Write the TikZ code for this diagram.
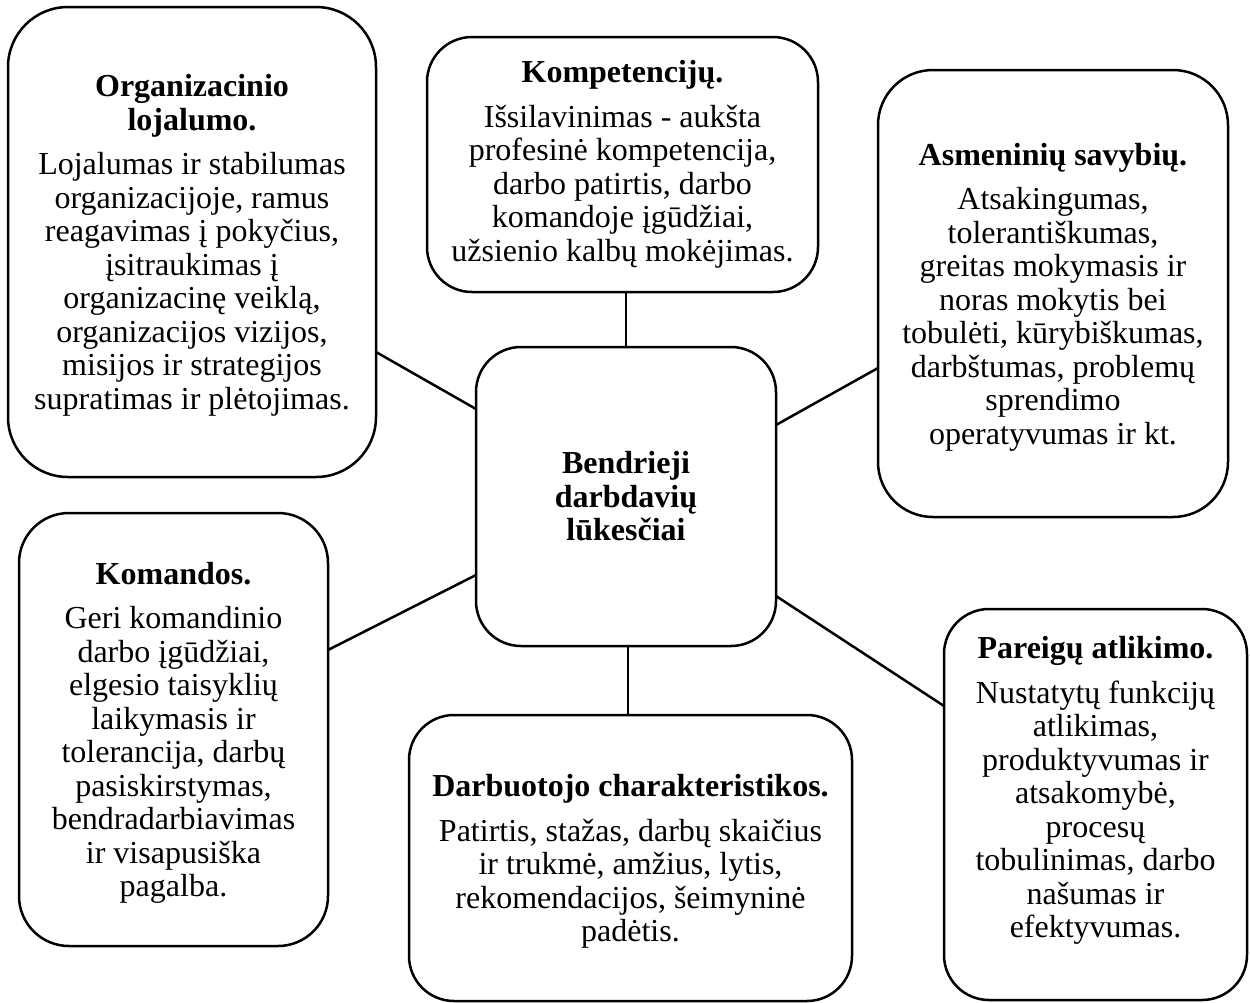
\documentclass[tikz,border=0pt]{standalone}
\usepackage{fontspec}
\setmainfont{Liberation Serif}
\begin{document}
\begin{tikzpicture}[x=0.5pt,y=-0.5pt,
  box/.style={draw=black, line width=1.25pt, rounded corners=#1, inner sep=0pt,
    outer sep=0pt, align=center, fill=white,
    font=\fontsize{16}{16.75}\selectfont},
  box/.default=22.5pt,
  link/.style={draw=black, line width=1.25pt}]
\fill[white] (0,0) rectangle (1250,1003);
\useasboundingbox (0,0) rectangle (1250,1003);

% central topic
\node[box, minimum width=150pt, minimum height=149.5pt] (ctr) at (626,496.5)
  {\textbf{Bendrieji}\\\textbf{darbdavių}\\\textbf{lūkesčiai}};

% surrounding groups of expectations
\node[box=30pt, minimum width=184pt, minimum height=235pt, text depth=-1.5pt] (org) at (192,242)
  {\textbf{Organizacinio}\\\textbf{lojalumo.}\\[5.5pt]
   Lojalumas ir stabilumas\\organizacijoje, ramus\\reagavimas į pokyčius,\\
   įsitraukimas į\\organizacinę veiklą,\\organizacijos vizijos,\\
   misijos ir strategijos\\supratimas ir plėtojimas.};

\node[box, minimum width=195.5pt, minimum height=127.5pt] (komp) at (622.5,164.5)
  {\textbf{Kompetencijų.}\\[5.5pt]
   Išsilavinimas - aukšta\\profesinė kompetencija,\\darbo patirtis, darbo\\
   komandoje įgūdžiai,\\užsienio kalbų mokėjimas.};

\node[box=27.5pt, minimum width=175pt, minimum height=223.5pt, text depth=-1pt] (asm) at (1053,293.5)
  {\textbf{Asmeninių savybių.}\\[5.5pt]
   Atsakingumas,\\tolerantiškumas,\\greitas mokymasis ir\\noras mokytis bei\\
   tobulėti, kūrybiškumas,\\darbštumas, problemų\\sprendimo\\operatyvumas ir kt.};

\node[box=25pt, minimum width=154.5pt, minimum height=216.5pt, text depth=-3.5pt] (kom) at (173.5,729.5)
  {\textbf{Komandos.}\\[5.5pt]
   Geri komandinio\\darbo įgūdžiai,\\elgesio taisyklių\\laikymasis ir\\
   tolerancija, darbų\\pasiskirstymas,\\bendradarbiavimas\\ir visapusiška\\pagalba.};

\node[box, minimum width=221.5pt, minimum height=143pt, text depth=-3pt] (darb) at (630.5,858)
  {\textbf{Darbuotojo charakteristikos.}\\[5.5pt]
   Patirtis, stažas, darbų skaičius\\ir trukmė, amžius, lytis,\\
   rekomendacijos, šeimyninė\\padėtis.};

\node[box, minimum width=151.5pt, minimum height=195.5pt, text depth=17.5pt] (par) at (1095.5,804.5)
  {\textbf{Pareigų atlikimo.}\\[5.5pt]
   Nustatytų funkcijų\\atlikimas,\\produktyvumas ir\\atsakomybė,\\procesų\\
   tobulinimas, darbo\\našumas ir\\efektyvumas.};

% connectors to the central topic
\draw[link] (org.east |- 0,352) -- (ctr.west |- 0,409);
\draw[link] (komp.south -| 626,0) -- (ctr.north -| 626,0);
\draw[link] (asm.west |- 0,368) -- (ctr.east |- 0,425);
\draw[link] (kom.east |- 0,650) -- (ctr.west |- 0,575);
\draw[link] (darb.north -| 628,0) -- (ctr.south -| 628,0);
\draw[link] (par.west |- 0,706) -- (ctr.east |- 0,596);
\end{tikzpicture}
\end{document}
